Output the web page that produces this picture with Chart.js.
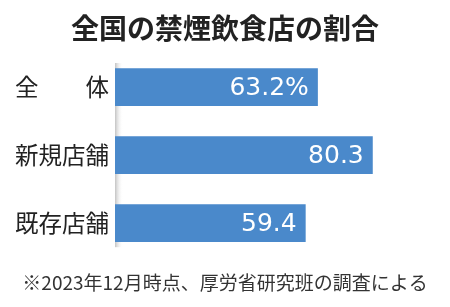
<!DOCTYPE html>
<html lang="ja">
<head>
    <meta charset="UTF-8">
    <title>全国の禁煙飲食店の割合</title>
    <style>
        body {
            margin: 0;
            padding: 0;
            background-color: #fff;
        }
        canvas {
            display: block;
        }
    </style>
</head>
<body>
    <canvas id="smokeChart" width="450" height="307"></canvas>

    <script src="https://cdn.jsdelivr.net/npm/chart.js"></script>
    <script>
        // data
        const categories = ['全　　体', '新規店舗', '既存店舗'];
        const values = [63.2, 80.3, 59.4];
        const valueLabels = ['63.2%', '80.3', '59.4'];

        const barColor = '#4a89cb';

        // white value text inside the end of each bar
        const valueTextPlugin = {
            id: 'valueText',
            afterDatasetsDraw(chart) {
                const ctx = chart.ctx;
                const meta = chart.getDatasetMeta(0);
                ctx.save();
                ctx.fillStyle = '#fff';
                ctx.font = '25px "DejaVu Sans"';
                ctx.textAlign = 'right';
                ctx.textBaseline = 'middle';
                meta.data.forEach((bar, i) => {
                    ctx.fillText(valueLabels[i], bar.x - 9, bar.y + 1);
                });
                ctx.restore();
            }
        };

        // faint grey shade along the left edge of the bars
        const edgeShadePlugin = {
            id: 'edgeShade',
            beforeDatasetsDraw(chart) {
                const ctx = chart.ctx;
                const area = chart.chartArea;
                const grad = ctx.createLinearGradient(area.left, 0, area.left + 8, 0);
                grad.addColorStop(0, 'rgba(180,180,180,0.8)');
                grad.addColorStop(1, 'rgba(255,255,255,0)');
                ctx.save();
                ctx.fillStyle = grad;
                ctx.fillRect(area.left, area.top + 10, 8, area.bottom - area.top - 20);
                ctx.restore();
            }
        };

        const ctx = document.getElementById('smokeChart').getContext('2d');
        new Chart(ctx, {
            type: 'bar',
            data: {
                labels: categories,
                datasets: [{
                    data: values,
                    backgroundColor: barColor,
                    borderWidth: 0,
                    categoryPercentage: 1,
                    barPercentage: 0.555
                }]
            },
            options: {
                indexAxis: 'y',
                responsive: false,
                animation: false,
                layout: {
                    padding: { left: 14, right: 14, top: 0, bottom: 0 }
                },
                plugins: {
                    legend: { display: false },
                    tooltip: { enabled: false },
                    title: {
                        display: true,
                        text: '全国の禁煙飲食店の割合',
                        color: '#222',
                        font: { family: '"Noto Sans CJK JP"', size: 28, weight: 'bold', lineHeight: 1.2 },
                        padding: { top: 12, bottom: 7.4 }
                    },
                    subtitle: {
                        display: true,
                        position: 'bottom',
                        text: '※2023年12月時点、厚労省研究班の調査による',
                        color: '#333',
                        font: { family: '"Noto Sans CJK JP"', size: 19, lineHeight: 1.2 },
                        padding: { top: 14, bottom: 13 }
                    }
                },
                scales: {
                    x: {
                        display: false,
                        min: 0,
                        max: 100
                    },
                    y: {
                        grid: { display: false, drawTicks: false },
                        border: { display: false },
                        ticks: {
                            color: '#222',
                            padding: 6,
                            font: { family: '"Noto Sans CJK JP"', size: 23.5 }
                        },
                        afterFit(scale) {
                            scale.width = 101;
                        }
                    }
                }
            },
            plugins: [edgeShadePlugin, valueTextPlugin]
        });
    </script>
</body>
</html>
